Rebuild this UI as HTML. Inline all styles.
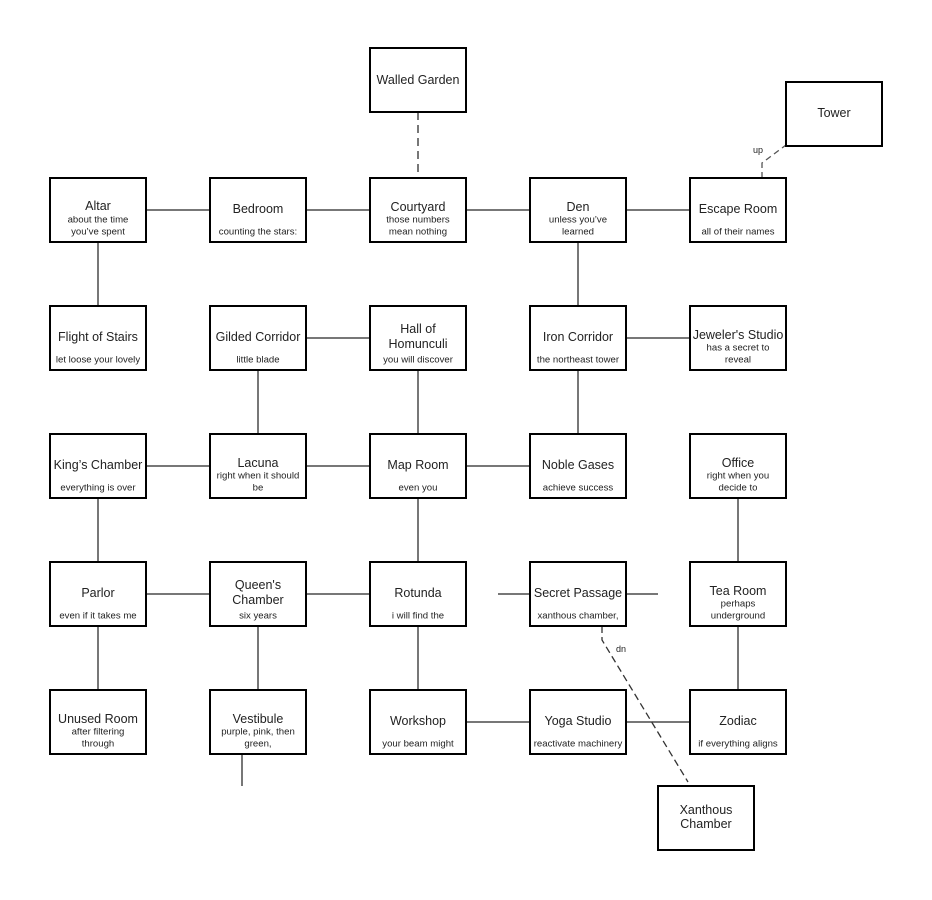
<!DOCTYPE html>
<html><head><meta charset="utf-8"><style>
body{margin:0;background:#fff}
svg{display:block}
text{font-family:"Liberation Sans",sans-serif;fill:#222;text-anchor:middle;dominant-baseline:central}
.t{font-size:12.5px}
.s{font-size:9.6px}
</style></head><body>
<svg width="932" height="900" viewBox="0 0 932 900">
<g stroke="#777" stroke-width="2" fill="none">
<line x1="146" y1="210" x2="210" y2="210"/>
<line x1="306" y1="210" x2="370" y2="210"/>
<line x1="466" y1="210" x2="530" y2="210"/>
<line x1="626" y1="210" x2="690" y2="210"/>
<line x1="98" y1="242" x2="98" y2="306"/>
<line x1="578" y1="242" x2="578" y2="306"/>
<line x1="306" y1="338" x2="370" y2="338"/>
<line x1="626" y1="338" x2="690" y2="338"/>
<line x1="258" y1="370" x2="258" y2="434"/>
<line x1="418" y1="370" x2="418" y2="434"/>
<line x1="578" y1="370" x2="578" y2="434"/>
<line x1="146" y1="466" x2="210" y2="466"/>
<line x1="306" y1="466" x2="370" y2="466"/>
<line x1="466" y1="466" x2="530" y2="466"/>
<line x1="98" y1="498" x2="98" y2="562"/>
<line x1="418" y1="498" x2="418" y2="562"/>
<line x1="738" y1="498" x2="738" y2="562"/>
<line x1="146" y1="594" x2="210" y2="594"/>
<line x1="306" y1="594" x2="370" y2="594"/>
<line x1="498" y1="594" x2="530" y2="594"/>
<line x1="626" y1="594" x2="658" y2="594"/>
<line x1="98" y1="626" x2="98" y2="690"/>
<line x1="258" y1="626" x2="258" y2="690"/>
<line x1="418" y1="626" x2="418" y2="690"/>
<line x1="738" y1="626" x2="738" y2="690"/>
<line x1="466" y1="722" x2="530" y2="722"/>
<line x1="626" y1="722" x2="690" y2="722"/>
<line x1="242" y1="754" x2="242" y2="786"/>
</g>
<g stroke="#333" fill="none">
<line x1="418" y1="112" x2="418" y2="178" stroke="#777" stroke-width="2" stroke-dasharray="8,5"/>
<polyline points="762,178 762,163 786,145" stroke="#555" stroke-width="1.3" stroke-dasharray="6,4"/>
<polyline points="602,626 602,640 688,782" stroke-width="1.3" stroke-dasharray="7,4"/>
</g>
<text class="s" x="758" y="150" style="font-size:9px">up</text>
<text class="s" x="621" y="649" style="font-size:9px">dn</text>
<g fill="#fff" stroke="#000" stroke-width="2">
<rect x="370" y="48" width="96" height="64"/>
<rect x="786" y="82" width="96" height="64"/>
<rect x="50" y="178" width="96" height="64"/><rect x="210" y="178" width="96" height="64"/><rect x="370" y="178" width="96" height="64"/><rect x="530" y="178" width="96" height="64"/><rect x="690" y="178" width="96" height="64"/>
<rect x="50" y="306" width="96" height="64"/><rect x="210" y="306" width="96" height="64"/><rect x="370" y="306" width="96" height="64"/><rect x="530" y="306" width="96" height="64"/><rect x="690" y="306" width="96" height="64"/>
<rect x="50" y="434" width="96" height="64"/><rect x="210" y="434" width="96" height="64"/><rect x="370" y="434" width="96" height="64"/><rect x="530" y="434" width="96" height="64"/><rect x="690" y="434" width="96" height="64"/>
<rect x="50" y="562" width="96" height="64"/><rect x="210" y="562" width="96" height="64"/><rect x="370" y="562" width="96" height="64"/><rect x="530" y="562" width="96" height="64"/><rect x="690" y="562" width="96" height="64"/>
<rect x="50" y="690" width="96" height="64"/><rect x="210" y="690" width="96" height="64"/><rect x="370" y="690" width="96" height="64"/><rect x="530" y="690" width="96" height="64"/><rect x="690" y="690" width="96" height="64"/>
<rect x="658" y="786" width="96" height="64"/>
</g>
<text class="t" x="418" y="80">Walled Garden</text>
<text class="t" x="834" y="113">Tower</text>
<text class="t" x="98" y="206">Altar</text><text class="s" x="98" y="220">about the time</text><text class="s" x="98" y="232">you’ve spent</text>
<text class="t" x="258" y="209">Bedroom</text><text class="s" x="258" y="232">counting the stars:</text>
<text class="t" x="418" y="207">Courtyard</text><text class="s" x="418" y="220">those numbers</text><text class="s" x="418" y="232">mean nothing</text>
<text class="t" x="578" y="207">Den</text><text class="s" x="578" y="220">unless you’ve</text><text class="s" x="578" y="232">learned</text>
<text class="t" x="738" y="209">Escape Room</text><text class="s" x="738" y="232">all of their names</text>
<text class="t" x="98" y="337">Flight of Stairs</text><text class="s" x="98" y="360">let loose your lovely</text>
<text class="t" x="258" y="337">Gilded Corridor</text><text class="s" x="258" y="360">little blade</text>
<text class="t" x="418" y="329">Hall of</text><text class="t" x="418" y="344">Homunculi</text><text class="s" x="418" y="360">you will discover</text>
<text class="t" x="578" y="337">Iron Corridor</text><text class="s" x="578" y="360">the northeast tower</text>
<text class="t" x="738" y="335">Jeweler's Studio</text><text class="s" x="738" y="348">has a secret to</text><text class="s" x="738" y="360">reveal</text>
<text class="t" x="98" y="465">King’s Chamber</text><text class="s" x="98" y="488">everything is over</text>
<text class="t" x="258" y="463">Lacuna</text><text class="s" x="258" y="476">right when it should</text><text class="s" x="258" y="488">be</text>
<text class="t" x="418" y="465">Map Room</text><text class="s" x="418" y="488">even you</text>
<text class="t" x="578" y="465">Noble Gases</text><text class="s" x="578" y="488">achieve success</text>
<text class="t" x="738" y="463">Office</text><text class="s" x="738" y="476">right when you</text><text class="s" x="738" y="488">decide to</text>
<text class="t" x="98" y="593">Parlor</text><text class="s" x="98" y="616">even if it takes me</text>
<text class="t" x="258" y="585">Queen's</text><text class="t" x="258" y="600">Chamber</text><text class="s" x="258" y="616">six years</text>
<text class="t" x="418" y="593">Rotunda</text><text class="s" x="418" y="616">i will find the</text>
<text class="t" x="578" y="593">Secret Passage</text><text class="s" x="578" y="616">xanthous chamber,</text>
<text class="t" x="738" y="591">Tea Room</text><text class="s" x="738" y="604">perhaps</text><text class="s" x="738" y="616">underground</text>
<text class="t" x="98" y="719">Unused Room</text><text class="s" x="98" y="732">after filtering</text><text class="s" x="98" y="744">through</text>
<text class="t" x="258" y="719">Vestibule</text><text class="s" x="258" y="732">purple, pink, then</text><text class="s" x="258" y="744">green,</text>
<text class="t" x="418" y="721">Workshop</text><text class="s" x="418" y="744">your beam might</text>
<text class="t" x="578" y="721">Yoga Studio</text><text class="s" x="578" y="744">reactivate machinery</text>
<text class="t" x="738" y="721">Zodiac</text><text class="s" x="738" y="744">if everything aligns</text>
<text class="t" x="706" y="810">Xanthous</text><text class="t" x="706" y="824">Chamber</text>
</svg>
</body></html>
